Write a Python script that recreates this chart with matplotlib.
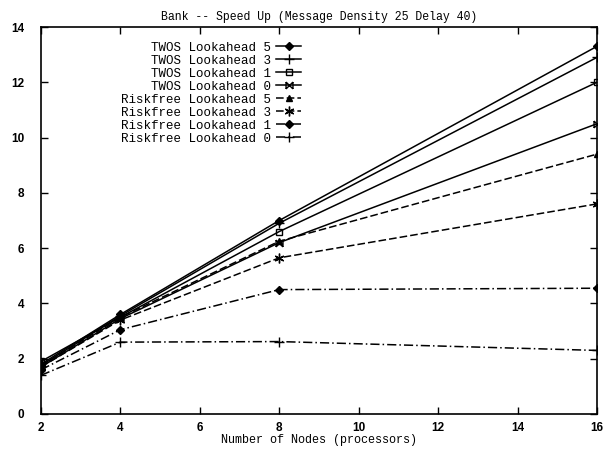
import matplotlib
matplotlib.use('Agg')
import matplotlib.pyplot as plt
from matplotlib.path import Path

# datos
nodos = [2, 4, 8, 16]
twos_5 = [1.8, 3.6, 7.0, 13.3]
twos_3 = [1.75, 3.55, 6.9, 12.9]
twos_1 = [1.9, 3.5, 6.6, 12.0]
twos_0 = [1.7, 3.45, 6.2, 10.5]
risk_5 = [1.75, 3.5, 6.25, 9.4]
risk_3 = [1.7, 3.4, 5.65, 7.6]
risk_1 = [1.6, 3.05, 4.5, 4.55]
risk_0 = [1.4, 2.6, 2.62, 2.3]

etiquetas = ['TWOS Lookahead 5', 'TWOS Lookahead 3', 'TWOS Lookahead 1',
             'TWOS Lookahead 0', 'Riskfree Lookahead 5', 'Riskfree Lookahead 3',
             'Riskfree Lookahead 1', 'Riskfree Lookahead 0']

# marcador tipo "bowtie" de gnuplot
bowtie = Path([(-1, -1), (1, 1), (-1, 1), (1, -1), (-1, -1), (-1, 1), (1, -1), (1, 1)],
              [Path.MOVETO, Path.LINETO, Path.MOVETO, Path.LINETO,
               Path.MOVETO, Path.LINETO, Path.MOVETO, Path.LINETO])

series = [twos_5, twos_3, twos_1, twos_0, risk_5, risk_3, risk_1, risk_0]
marcas = ['D', '+', 's', bowtie, '^', (6, 2, 0), 'D', '+']
rellenos = ['k', 'k', 'none', 'k', 'k', 'k', 'k', 'k']
tamanos = [4, 7, 5, 5, 4.5, 7, 4, 7]
estilos = ['-', '-', '-', '-', (0, (5, 2)), (0, (5, 2)), (0, (6, 2, 1, 2)), (0, (6, 2, 1, 2))]

mono = 'Liberation Mono'
width = max(len(e) for e in etiquetas)

fig = plt.figure(figsize=(6.11, 4.5), dpi=100)
ax = fig.add_axes([0.067, 0.08, 0.91, 0.86])

for s, m, f, t, e, lab in zip(series, marcas, rellenos, tamanos, estilos, etiquetas):
    ax.plot(nodos, s, color='k', linestyle=e, linewidth=1.1, marker=m,
            markersize=t, markerfacecolor=f, markeredgecolor='k', markeredgewidth=1.0,
            label=lab.rjust(width))

ax.set_xlim(2, 16)
ax.set_ylim(0, 14)
ax.set_xticks(range(2, 17, 2))
ax.set_yticks(range(0, 15, 2))
ax.tick_params(direction='in', top=True, right=True, length=5, width=1,
               labelsize=8.5)
ax.tick_params(axis='x', pad=6)
ax.tick_params(axis='y', pad=12)
for lbl in ax.get_xticklabels() + ax.get_yticklabels():
    lbl.set_fontfamily('Liberation Sans')
    lbl.set_fontweight('bold')
for sp in ax.spines.values():
    sp.set_linewidth(1.2)

ax.set_title('Bank -- Speed Up (Message Density 25 Delay 40)', fontfamily=mono,
             fontsize=8.3, pad=5)
ax.set_xlabel('Number of Nodes (processors)', fontfamily=mono, fontsize=8.5, labelpad=0)

leg = ax.legend(loc='upper right', bbox_to_anchor=(0.468, 0.962), frameon=False,
                markerfirst=False, handlelength=2.0, handletextpad=0.4,
                labelspacing=0.08, borderpad=0, borderaxespad=0,
                prop={'family': mono, 'size': 9})

fig.savefig('out.png', dpi=100)
